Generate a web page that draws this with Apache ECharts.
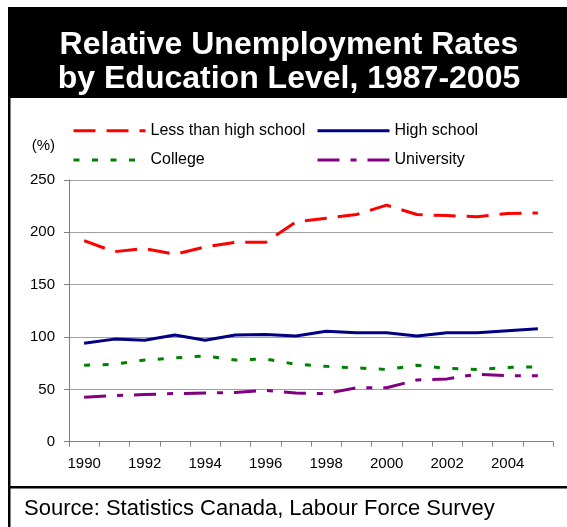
<!DOCTYPE html>
<html>
<head>
<meta charset="utf-8">
<script src="https://cdn.jsdelivr.net/npm/echarts@6/dist/echarts.min.js"></script>
<style>
  html, body { margin: 0; padding: 0; background: #fff; }
  #chart { width: 567px; height: 527px; }
</style>
</head>
<body>
<div id="chart"></div>
<script>
var years = ['1990','1991','1992','1993','1994','1995','1996','1997','1998','1999','2000','2001','2002','2003','2004','2005'];
var lessThanHighSchool = [192, 181.5, 184.5, 179, 186, 190.5, 190.5, 210, 213.5, 217, 226, 217, 216, 215, 218, 218.5];
var highSchool = [94, 98, 97, 102, 97, 102, 102.5, 101, 105.5, 104, 104, 101, 104, 104, 106, 108];
var college = [73, 74, 78, 80, 82, 78, 79, 74, 72, 70.5, 69, 73, 70, 69, 71, 71.5];
var university = [42.5, 44, 45, 46, 46.5, 47, 49, 46.5, 46, 51.5, 51.5, 59, 60, 64.5, 63, 63];
var titleLines = ['Relative Unemployment Rates', 'by Education Level, 1987-2005'];
var sourceText = 'Source: Statistics Canada, Labour Force Survey';

var FONT = '"Liberation Sans", Arial, Helvetica, sans-serif';
var chart = echarts.init(document.getElementById('chart'), null, { renderer: 'canvas' });

function mkSeries(name, data, color, dash) {
  return {
    name: name, type: 'line', data: data,
    symbol: 'none', showSymbol: false, smooth: false,
    lineStyle: { color: color, width: 3, type: dash },
    itemStyle: { color: color },
    emphasis: { disabled: true },
    animation: false
  };
}

var legendCommon = {
  orient: 'vertical', padding: 0, itemWidth: 72, itemHeight: 14, itemGap: 13.3,
  itemStyle: { opacity: 0, borderWidth: 0 },
  lineStyle: { width: 3 },
  textStyle: { fontFamily: FONT, fontSize: 16, color: '#000', lineHeight: 16 },
  selectedMode: false
};

chart.setOption({
  animation: false,
  backgroundColor: '#fff',
  textStyle: { fontFamily: FONT },
  grid: { left: 69, right: 14, top: 180, bottom: 85.3, containLabel: false },
  legend: [
    Object.assign({}, legendCommon, { data: ['Less than high school', 'College'], left: 72, top: 122.7 }),
    Object.assign({}, legendCommon, { data: ['High school', 'University'], left: 316, top: 122.7 })
  ],
  xAxis: {
    type: 'category', data: years, boundaryGap: true,
    axisLine: { lineStyle: { color: '#808080', width: 1 } },
    axisTick: { show: true, interval: 0, length: 5, lineStyle: { color: '#808080' } },
    axisLabel: { interval: 1, margin: 15, fontSize: 15, color: '#000', fontFamily: FONT },
    splitLine: { show: false }
  },
  yAxis: {
    type: 'value', min: 0, max: 250, interval: 50,
    name: '(%)', nameLocation: 'end', nameGap: 27,
    nameTextStyle: { fontSize: 15, color: '#000', fontFamily: FONT, align: 'right', padding: [0, 14, 0, 0] },
    axisLine: { show: true, lineStyle: { color: '#808080', width: 1 } },
    axisTick: { show: true, length: 5, lineStyle: { color: '#808080' } },
    axisLabel: { margin: 14, fontSize: 15, color: '#000', fontFamily: FONT },
    splitLine: { show: true, lineStyle: { color: '#a0a0a0', width: 1 } }
  },
  series: [
    mkSeries('Less than high school', lessThanHighSchool, '#ff0000', [22, 11]),
    mkSeries('High school', highSchool, '#000080', 'solid'),
    mkSeries('College', college, '#008000', [6, 12.5]),
    mkSeries('University', university, '#800080', [22, 11, 6, 11])
  ],
  graphic: [
    { type: 'rect', shape: { x: 8, y: 7, width: 559, height: 91 }, style: { fill: '#000' }, silent: true },
    { type: 'text', x: 289, y: 45, style: { text: titleLines[0], fill: '#fff', font: 'bold 32px ' + FONT, textAlign: 'center', textVerticalAlign: 'middle' }, silent: true },
    { type: 'text', x: 289, y: 79, style: { text: titleLines[1], fill: '#fff', font: 'bold 32px ' + FONT, textAlign: 'center', textVerticalAlign: 'middle' }, silent: true },
    { type: 'rect', shape: { x: 8, y: 98, width: 2.5, height: 429 }, style: { fill: '#000' }, silent: true },
    { type: 'rect', shape: { x: 8, y: 486, width: 559, height: 2.5 }, style: { fill: '#000' }, silent: true },
    { type: 'text', x: 24, y: 509, style: { text: sourceText, fill: '#000', font: '22px ' + FONT, textAlign: 'left', textVerticalAlign: 'middle' }, silent: true }
  ]
});
</script>
</body>
</html>
